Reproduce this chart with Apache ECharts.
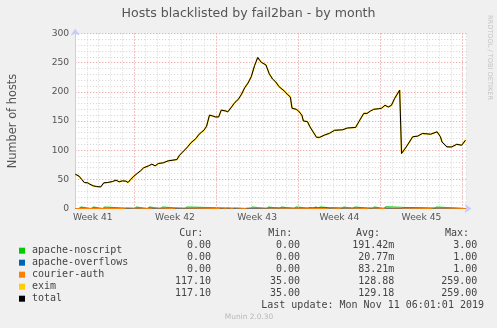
<!DOCTYPE html>
<html><head><meta charset="utf-8">
<script src="https://cdn.jsdelivr.net/npm/echarts@6/dist/echarts.min.js"></script>
<style>html,body{margin:0;padding:0;background:#f0f0f0;}#c{width:497px;height:328px;}</style>
</head><body><div id="c"></div>
<script>
// time positions in days from the left edge of the plot
const dayPos = [0, 0.33, 0.56, 0.78, 1.06, 1.25, 1.53, 1.8, 2.17, 2.28, 2.44, 2.78, 3.19, 3.47, 3.75, 4.03, 4.31, 4.5, 4.72, 5.0, 5.28, 5.56, 5.83, 6.25, 6.53, 6.81, 7.08, 7.5, 7.92, 8.33, 8.67, 8.89, 9.17, 9.58, 9.86, 10.28, 10.56, 10.97, 11.19, 11.44, 11.67, 11.94, 12.22, 12.44, 12.78, 13.0, 13.33, 13.61, 13.89, 14.17, 14.44, 14.72, 14.86, 15.0, 15.28, 15.55, 15.83, 16.0, 16.25, 16.53, 16.81, 17.08, 17.36, 17.78, 18.06, 18.33, 18.47, 18.83, 19.03, 19.31, 19.44, 19.78, 20.0, 20.28, 20.56, 20.83, 21.25, 21.67, 22.08, 22.78, 23.19, 23.89, 24.17, 24.58, 24.86, 25.14, 25.42, 25.83, 26.11, 26.39, 26.67, 26.94, 27.22, 27.64, 27.8, 28.2, 28.47, 28.75, 29.17, 29.58, 30.28, 30.83, 31.11, 31.25, 31.67, 32.08, 32.5, 32.92, 33.25];
const totalHosts = [58.9, 55.4, 49.7, 44.6, 44, 41.7, 38.9, 37.7, 37, 35, 44, 44.6, 46.3, 48.6, 45.7, 47.4, 46.9, 44.6, 49.7, 55.4, 60, 64.6, 69.7, 73.1, 76, 73.1, 77.1, 78.3, 81.7, 82.9, 84, 91.4, 97, 105.7, 112.6, 120, 127.4, 134.3, 141, 160, 158.9, 157, 157, 168.6, 167.4, 165.7, 174.3, 182, 187, 196, 207, 215, 217, 226, 245, 259, 251, 248, 246, 231, 222, 217, 209, 202, 196, 191, 172, 170, 167, 160, 150, 149, 140, 131, 122, 122, 126, 129, 134, 135, 138, 139, 149, 163, 163, 167, 170, 171, 172, 177, 174, 177, 189, 203, 94.3, 105.6, 114, 123, 124, 128.6, 127.4, 131.4, 123, 114, 105.6, 105.6, 110, 108.5, 117.1];
const eximHosts = [58.9, 55.4, 49.7, 44.6, 44, 41.7, 38.9, 37.7, 37, 35, 44, 44.6, 46.3, 48.6, 45.7, 47.4, 46.9, 44.6, 49.7, 55.4, 60, 64.6, 69.7, 73.1, 76, 73.1, 77.1, 78.3, 81.7, 82.9, 84, 91.4, 97, 105.7, 112.6, 120, 127.4, 134.3, 141, 160, 158.9, 157, 157, 168.6, 167.4, 165.7, 174.3, 182, 187, 196, 207, 215, 217, 226, 245, 259, 251, 248, 246, 231, 222, 217, 209, 202, 196, 191, 172, 170, 167, 160, 150, 149, 140, 131, 122, 122, 126, 129, 134, 135, 138, 139, 149, 163, 163, 167, 170, 171, 172, 177, 174, 177, 189, 203, 94.3, 105.6, 114, 123, 124, 128.6, 127.4, 131.4, 123, 114, 105.6, 105.6, 110, 108.5, 117.1];
// sporadic small counts (day, value)
const noscriptDays = [0.42, 1.47, 2.44, 5.14, 6.25, 7.36, 9.44, 15.0, 16.4, 17.5, 18.75, 20.4, 20.78, 22.8, 23.75, 25.4, 26.4, 30.7];
const noscriptVals = [2.5, 2.5, 2.5, 2.5, 2.5, 2.5, 2.5, 2.5, 2.5, 2.5, 2.5, 2.5, 2.5, 2.5, 2.5, 2.5, 3, 2.5];
const overflowDays = [16.5, 19.86, 27.9];
const overflowVals = [1, 1, 1];
const courierDays = [4.31, 6.53, 8.47, 12.36, 12.92, 13.47, 14.58, 21.53, 22.64, 25.0, 26.4, 30.42];
const courierVals = [1, 1, 1, 1, 1, 1, 1, 1, 1, 1, 1, 1];
const lastDay = 33.25;

const weekStarts = [5, 12, 19, 26, 33];
const weekMids = [1.5, 8.5, 15.5, 22.5, 29.5];
const weekLabels = ['Week 41', 'Week 42', 'Week 43', 'Week 44', 'Week 45'];

const seriesNames = ['apache-noscript', 'apache-overflows', 'courier-auth', 'exim', 'total'];
const seriesColors = ['#00cc00', '#0066b3', '#ff8000', '#ffcc00', '#000000'];
const curVals = ['0.00', '0.00', '0.00', '117.10', '117.10'];
const minVals = ['0.00', '0.00', '0.00', '35.00', '35.00'];
const avgVals = ['191.42m', '20.77m', '83.21m', '128.88', '129.18'];
const maxVals = ['3.00', '1.00', '1.00', '259.00', '259.00'];
const colHeaders = ['Cur:', 'Min:', 'Avg:', 'Max:'];

function pairs(xs, ys) { return xs.map((x, i) => [x, ys[i]]); }
function spikes(ds, vs) {
  const out = [[0, 0]];
  ds.forEach((d, i) => { out.push([d - 0.1, 0], [d - 0.04, vs[i]], [d + 0.1, vs[i]], [d + 0.16, 0]); });
  out.push([lastDay, 0]);
  return out;
}

const chart = echarts.init(document.getElementById('c'), null, {renderer: 'canvas'});
const gridDot = [1, 2];
const mono = '"DejaVu Sans Mono"';
const sans = '"DejaVu Sans"';

const graphic = [];
const rowY = [245.7, 257.7, 269.6, 281.7, 293.7];
const hdrX = [203.3, 292.3, 380, 469];
const valX = [211, 300, 394.3, 477.3];
colHeaders.forEach((h, i) => graphic.push({type: 'text', x: hdrX[i], y: 233.7, style: {text: h, font: '10px ' + mono, fill: '#444', align: 'right', verticalAlign: 'middle'}}));
[curVals, minVals, avgVals, maxVals].forEach((col, c) => {
  col.forEach((v, r) => graphic.push({type: 'text', x: valX[c], y: rowY[r], style: {text: v, font: '10px ' + mono, fill: '#444', align: 'right', verticalAlign: 'middle'}}));
});
graphic.push({type: 'text', x: 484, y: 305.7, style: {text: 'Last update: Mon Nov 11 06:01:01 2019', font: '10px ' + mono, fill: '#444', align: 'right', verticalAlign: 'middle'}});
graphic.push({type: 'text', x: 249, y: 316.7, style: {text: 'Munin 2.0.30', font: '7.4px ' + sans, fill: '#b8b8b8', align: 'center', verticalAlign: 'middle'}});
graphic.push({type: 'text', x: 489.7, y: 57.5, rotation: -Math.PI / 2, style: {text: 'RRDTOOL / TOBI OETIKER', font: '6.6px ' + sans, fill: '#c4c4c4', align: 'center', verticalAlign: 'middle'}});

const lineBase = {type: 'line', yAxisIndex: 1, showSymbol: false, clip: false, silent: true};
const option = {
  backgroundColor: '#f0f0f0',
  animation: false,
  title: {text: 'Hosts blacklisted by fail2ban - by month', left: 'center', top: 2,
    textStyle: {fontSize: 12.6, fontWeight: 'normal', color: '#555', fontFamily: 'DejaVu Sans'}},
  legend: {orient: 'vertical', left: 14, top: 239.7, itemWidth: 6, itemHeight: 6, itemGap: 0, icon: 'rect',
    selectedMode: false, data: seriesNames,
    textStyle: {fontFamily: 'DejaVu Sans Mono', fontSize: 10, color: '#444', lineHeight: 12, padding: [0, 0, 0, 2]}},
  grid: {left: 66.5, top: 33.5, width: 400, height: 175, show: true, backgroundColor: '#ffffff', borderWidth: 0, containLabel: false},
  xAxis: [{
    type: 'value', min: 0, max: 33.333, interval: 1,
    axisLine: {show: true, lineStyle: {color: '#c8ccf8', width: 1}, symbol: ['none', 'arrow'], symbolSize: [7, 7], symbolOffset: [0, 5]},
    axisTick: {show: false},
    splitLine: {show: true, lineStyle: {color: '#d4d4d4', type: gridDot, width: 1}},
    axisLabel: {show: true, customValues: weekMids, margin: 5, fontSize: 9.2, color: '#555', fontFamily: 'DejaVu Sans',
      formatter: v => { const i = weekMids.indexOf(v); return i >= 0 ? weekLabels[i] : ''; }}
  }],
  yAxis: [{
    type: 'value', min: 0, max: 300, interval: 10,
    axisLine: {show: false}, axisTick: {show: false}, axisLabel: {show: false},
    splitLine: {show: true, lineStyle: {color: '#d4d4d4', type: gridDot, width: 1}}
  }, {
    type: 'value', min: 0, max: 300, interval: 50, position: 'left',
    name: 'Number of hosts', nameLocation: 'middle', nameGap: 56.2, nameRotate: 90,
    nameTextStyle: {fontSize: 11.4, color: '#555', fontFamily: 'DejaVu Sans'},
    axisLine: {show: true, lineStyle: {color: '#c8ccf8', width: 1}, symbol: ['none', 'arrow'], symbolSize: [7, 7], symbolOffset: [0, 5]},
    axisTick: {show: false},
    axisLabel: {margin: 6, fontSize: 9.2, color: '#555', fontFamily: 'DejaVu Sans'},
    splitLine: {show: true, lineStyle: {color: '#f4a0a0', type: gridDot, width: 1}}
  }],
  graphic: graphic,
  series: [
    {type: 'line', name: '_weeks', data: [], z: 1, silent: true,
      markLine: {silent: true, symbol: ['none', 'none'], label: {show: false},
        lineStyle: {color: '#f4a0a0', type: gridDot, width: 1},
        data: weekStarts.map(w => ({xAxis: w}))}},
    Object.assign({}, lineBase, {name: seriesNames[0], data: spikes(noscriptDays, noscriptVals), color: seriesColors[0], lineStyle: {width: 1.2}, z: 3}),
    Object.assign({}, lineBase, {name: seriesNames[1], data: spikes(overflowDays, overflowVals), color: seriesColors[1], lineStyle: {width: 1.2}, z: 4}),
    Object.assign({}, lineBase, {name: seriesNames[2], data: spikes(courierDays, courierVals), color: seriesColors[2], lineStyle: {width: 1}, z: 5}),
    Object.assign({}, lineBase, {name: seriesNames[3], data: pairs(dayPos, eximHosts), color: seriesColors[3], lineStyle: {width: 1.6}, z: 6}),
    Object.assign({}, lineBase, {name: seriesNames[4], data: pairs(dayPos, totalHosts), color: seriesColors[4], lineStyle: {width: 1}, z: 7})
  ]
};
chart.setOption(option);
</script>
</body></html>
